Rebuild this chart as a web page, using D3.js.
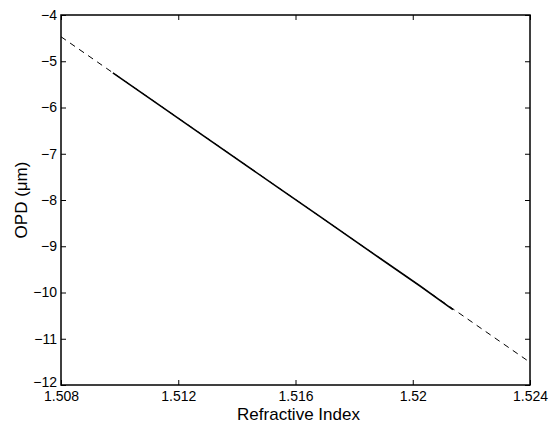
<!DOCTYPE html>
<html>
<head>
<meta charset="utf-8">
<script src="https://cdn.jsdelivr.net/npm/d3@7"></script>
<style>
  body { margin: 0; background: #fff; }
  text { font-family: "Liberation Sans", Arial, sans-serif; fill: #000; }
</style>
</head>
<body>
<div id="chart"></div>
<script>
// measured OPD vs refractive index (solid trace)
const measIndex = [1.50977, 1.51138, 1.51274, 1.51547, 1.51684, 1.51888, 1.52025, 1.52137];
const measOpd   = [-5.25, -5.96, -6.56, -7.76, -8.36, -9.26, -9.86, -10.37];
// linear fit (dashed), drawn across the full axis
const fitIndex = [1.508, 1.524];
const fitOpd   = [-4.47, -11.51];

const xTicks = [1.508, 1.512, 1.516, 1.52, 1.524];
const yTicks = [-4, -5, -6, -7, -8, -9, -10, -11, -12];

const width = 549, height = 426;
const m = {left: 61, right: 19, top: 15, bottom: 41};
const iw = width - m.left - m.right;
const ih = height - m.top - m.bottom;

const svg = d3.select('#chart').append('svg')
  .attr('width', width).attr('height', height);

const x = d3.scaleLinear().domain([1.508, 1.524]).range([0, iw]);
const y = d3.scaleLinear().domain([-12, -4]).range([ih, 0]);

const g = svg.append('g').attr('transform', `translate(${m.left},${m.top})`);

const line = d3.line().x(d => x(d[0])).y(d => y(d[1]));

g.append('path')
  .datum(fitIndex.map((v, i) => [v, fitOpd[i]]))
  .attr('d', line)
  .attr('fill', 'none')
  .attr('stroke', '#000')
  .attr('stroke-width', 1)
  .attr('stroke-dasharray', '6,5');

g.append('path')
  .datum(measIndex.map((v, i) => [v, measOpd[i]]))
  .attr('d', line)
  .attr('fill', 'none')
  .attr('stroke', '#000')
  .attr('stroke-width', 1.6);

// axes with inward ticks, mirrored on top/right
const fmtX = d => String(+d.toFixed(3));
g.append('g').attr('transform', `translate(0,${ih})`)
  .call(d3.axisBottom(x).tickValues(xTicks).tickSizeInner(-5).tickSizeOuter(0).tickPadding(6).tickFormat(fmtX))
  .call(a => a.selectAll('text').attr('font-size', 14).attr('font-family', '"Liberation Sans", Arial, sans-serif'));
g.append('g')
  .call(d3.axisTop(x).tickValues(xTicks).tickSizeInner(-5).tickSizeOuter(0).tickFormat(''));
g.append('g')
  .call(d3.axisLeft(y).tickValues(yTicks).tickSizeInner(-5).tickSizeOuter(0).tickPadding(4)
    .tickFormat(d => String(d).replace('-', '\u2212')))
  .call(a => a.selectAll('text').attr('font-size', 14).attr('font-family', '"Liberation Sans", Arial, sans-serif'))
  // bottom label sits just above the x tick label, as in the original
  .call(a => a.selectAll('.tick').filter(d => d === -12).select('text').attr('dy', '0.1em'));
g.append('g').attr('transform', `translate(${iw},0)`)
  .call(d3.axisRight(y).tickValues(yTicks).tickSizeInner(-5).tickSizeOuter(0).tickFormat(''));

g.selectAll('.domain').attr('stroke', 'none');
g.selectAll('.tick line').attr('stroke', '#000');

g.append('rect')
  .attr('width', iw).attr('height', ih)
  .attr('fill', 'none').attr('stroke', '#000').attr('stroke-width', 1.5);

svg.append('text')
  .attr('x', m.left + iw / 2 + 3).attr('y', 420)
  .attr('text-anchor', 'middle').attr('font-size', 17)
  .text('Refractive Index');

svg.append('text')
  .attr('transform', `translate(27,${m.top + ih / 2}) rotate(-90)`)
  .attr('text-anchor', 'middle').attr('font-size', 17)
  .text('OPD (\u03bcm)');
</script>
</body>
</html>
